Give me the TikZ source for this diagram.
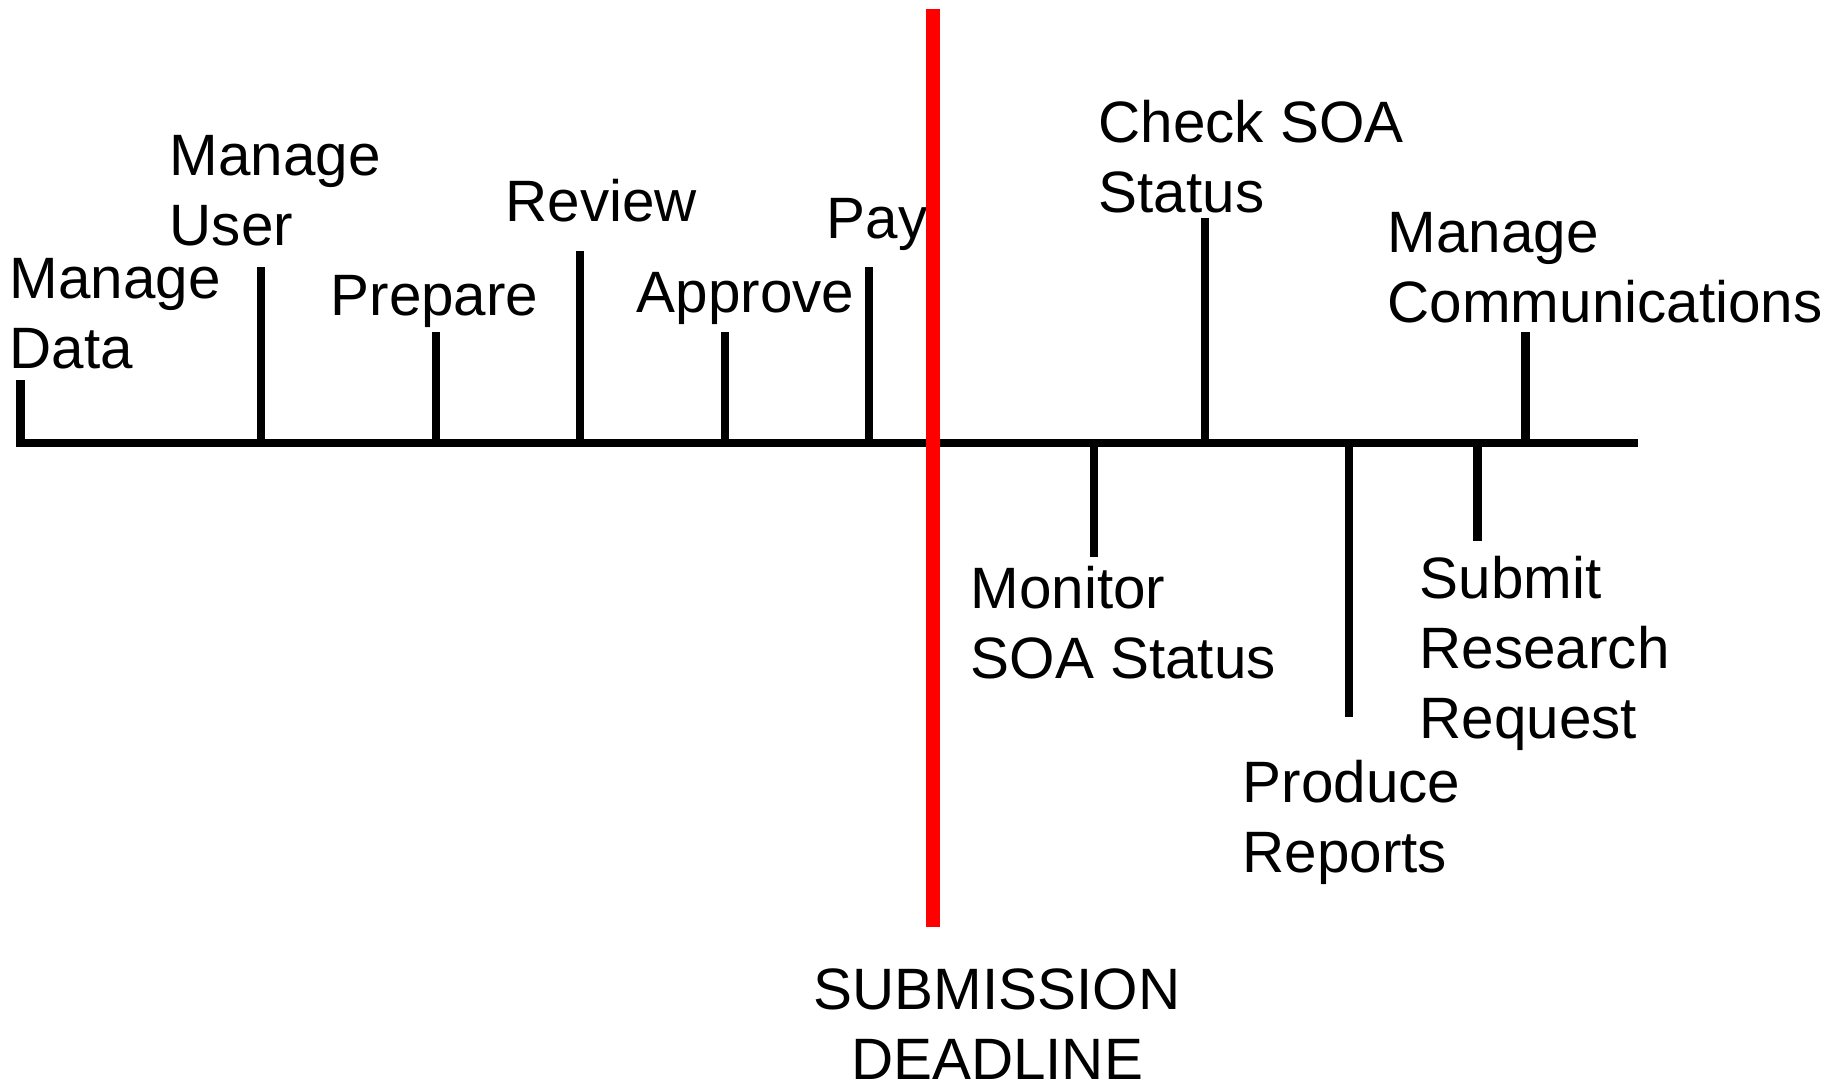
\documentclass[tikz,border=0pt]{standalone}
\usepackage{fontspec}
\setmainfont{Liberation Sans}

\tikzset{
	axis/.style={line width=2.55pt, color=black},
	stem/.style={line width=2.55pt, color=black},
	deadline/.style={line width=3.8pt, color=red},
	lbl/.style={anchor=base west, inner sep=0pt, align=left, font=\fontsize{16.6pt}{19.9pt}\selectfont},
}

\begin{document}
\begin{tikzpicture}[x=0.01cm, y=-0.01cm]
		%%%%% START %%%%%
		\useasboundingbox (0, 0) rectangle (1848, 1087);
		
		\coordinate (start) at (16, 443);
		\coordinate (stop) at (1638, 443);
		\draw[axis] (start) -- (stop);
		
		% above the line
		\coordinate (mdataB) at (20.5, 443);   \coordinate (mdataE) at (20.5, 380);
		\coordinate (muserB) at (261, 443);    \coordinate (muserE) at (261, 267);
		\coordinate (prepB) at (436, 443);     \coordinate (prepE) at (436, 332);
		\coordinate (revB) at (580, 443);      \coordinate (revE) at (580, 251);
		\coordinate (apprB) at (725, 443);     \coordinate (apprE) at (725, 332);
		\coordinate (payB) at (869, 443);      \coordinate (payE) at (869, 267);
		\coordinate (checkB) at (1205, 443);   \coordinate (checkE) at (1205, 218);
		\coordinate (mcommB) at (1525, 443);   \coordinate (mcommE) at (1525, 332);
		
		% below the line
		\coordinate (monB) at (1094, 443);     \coordinate (monE) at (1094, 557);
		\coordinate (prodB) at (1349, 443);    \coordinate (prodE) at (1349, 717);
		\coordinate (submB) at (1477, 443);    \coordinate (submE) at (1477, 541);
		
		\draw[stem] (mdataB) -- (mdataE);
		\draw[stem] (muserB) -- (muserE);
		\draw[stem] (prepB) -- (prepE);
		\draw[stem] (revB) -- (revE);
		\draw[stem] (apprB) -- (apprE);
		\draw[stem] (payB) -- (payE);
		\draw[stem] (checkB) -- (checkE);
		\draw[stem] (mcommB) -- (mcommE);
		\draw[stem] (monB) -- (monE);
		\draw[stem] (prodB) -- (prodE);
		\draw[stem] (submB) -- (submE);
		
		% labels sit on the baseline of their last line
		\node[lbl] (mdata) at (9, 368) {Manage\\Data};
		\node[lbl] (muser) at (169, 245) {Manage\\User};
		\node[lbl] (prep) at (330, 315) {Prepare};
		\node[lbl] (rev) at (505, 221) {Review};
		\node[lbl] (appr) at (636, 312) {Approve};
		\node[lbl] (pay) at (826, 238) {Pay};
		\node[lbl] (check) at (1098, 212) {Check SOA\\Status};
		\node[lbl] (mcomm) at (1387, 322) {Manage\\Communications};
		\node[lbl] (mon) at (970, 678) {Monitor\\SOA Status};
		\node[lbl] (prod) at (1242, 872) {Produce\\Reports};
		\node[lbl] (subm) at (1419, 738) {Submit\\Research\\Request};
		
		\coordinate (dtop) at (933, 9);
		\coordinate (dbot) at (933, 927);
		\draw[deadline] (dtop) -- (dbot);
		\node[lbl, anchor=base, align=center] (dline) at (997, 1079) {SUBMISSION\\DEADLINE};
		
		%%%%% END %%%%%
\end{tikzpicture}
\end{document}
